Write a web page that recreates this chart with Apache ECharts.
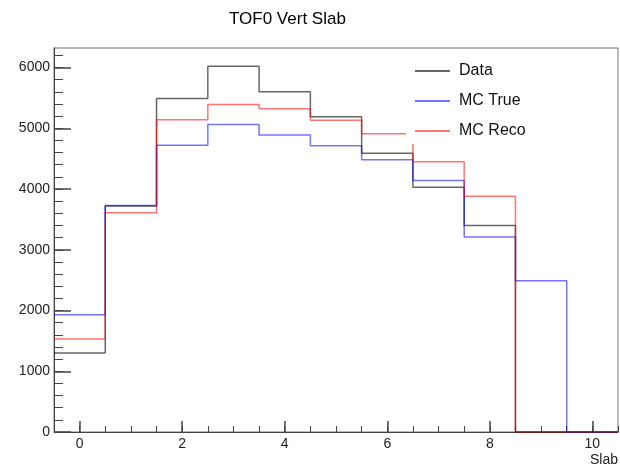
<!DOCTYPE html>
<html>
<head>
<meta charset="utf-8">
<script src="https://cdn.jsdelivr.net/npm/echarts@6/dist/echarts.min.js"></script>
<style>html,body{margin:0;padding:0;background:#fff}#c{width:620px;height:468px}</style>
</head>
<body>
<div id="c"></div>
<script>
var slabs = [0, 1, 2, 3, 4, 5, 6, 7, 8, 9, 10];
var dataVals = [1300, 3720, 5490, 6020, 5600, 5190, 4590, 4030, 3400, 0, 0];
var mcTrueVals = [1930, 3730, 4720, 5060, 4890, 4710, 4480, 4140, 3210, 2490, 0];
var mcRecoVals = [1530, 3610, 5140, 5390, 5320, 5130, 4910, 4450, 3880, 0, 0];
var xTickLabels = [0, 2, 4, 6, 8, 10];
var yTickLabels = [0, 1000, 2000, 3000, 4000, 5000, 6000];
var seriesNames = ['Data', 'MC True', 'MC Reco'];

var FONT = '"Liberation Sans", Arial, Helvetica, sans-serif';
var yMax = 6321;
var xMin = -0.5, xMax = 10.5;

function steps(vals) {
  var pts = [];
  for (var i = 0; i < slabs.length; i++) {
    pts.push([slabs[i] - 0.5, vals[i]]);
    pts.push([slabs[i] + 0.5, vals[i]]);
  }
  return pts;
}
var xMinor = [];
for (var v = xMin; v <= xMax + 1e-9; v += 0.5) xMinor.push(v);
var yMinor = [];
for (var w = 0; w <= 6200; w += 200) yMinor.push(w);
function plain(val) { return String(val); }

var chart = echarts.init(document.getElementById('c'), null, {renderer: 'canvas'});
chart.setOption({
  animation: false,
  backgroundColor: '#fff',
  title: {
    text: 'TOF0 Vert Slab',
    left: 224, top: 6,
    textStyle: {fontFamily: FONT, fontSize: 17, fontWeight: 'normal', color: '#000'}
  },
  grid: {left: 54, right: 2, top: 48, bottom: 36, show: true, borderColor: '#777', borderWidth: 1, backgroundColor: 'transparent'},
  xAxis: [{
    type: 'value', min: xMin, max: xMax,
    axisLine: {show: true, onZero: false, lineStyle: {color: '#444', width: 1}},
    axisTick: {show: true, inside: true, length: 11, customValues: xTickLabels, lineStyle: {color: '#444', width: 1.5}},
    axisLabel: {customValues: xTickLabels, formatter: plain, fontFamily: FONT, fontSize: 14, color: '#222', margin: 5},
    splitLine: {show: false}
  }, {
    type: 'value', min: xMin, max: xMax, position: 'bottom',
    axisLine: {show: false, onZero: false},
    axisTick: {show: true, inside: true, length: 6, customValues: xMinor, lineStyle: {color: '#444', width: 1}},
    axisLabel: {show: false},
    splitLine: {show: false}
  }],
  yAxis: [{
    type: 'value', min: 0, max: yMax,
    axisLine: {show: true, onZero: false, lineStyle: {color: '#444', width: 1}},
    axisTick: {show: true, inside: true, length: 17, customValues: yTickLabels, lineStyle: {color: '#444', width: 1.5}},
    axisLabel: {customValues: yTickLabels, formatter: plain, fontFamily: FONT, fontSize: 14, color: '#222', margin: 4},
    splitLine: {show: false}
  }, {
    type: 'value', min: 0, max: yMax, position: 'left',
    axisLine: {show: false, onZero: false},
    axisTick: {show: true, inside: true, length: 9, customValues: yMinor, lineStyle: {color: '#444', width: 1}},
    axisLabel: {show: false},
    splitLine: {show: false}
  }],
  legend: {
    orient: 'vertical', left: 406, top: 56, z: 20,
    backgroundColor: '#fff',
    padding: [6, 10, 4, 9],
    itemWidth: 35, itemHeight: 2, itemGap: 12,
    icon: 'rect',
    textStyle: {fontFamily: FONT, fontSize: 16, color: '#111', lineHeight: 18, padding: [0, 0, 0, 4]},
    data: seriesNames
  },
  graphic: [{
    type: 'text', right: 2, top: 453,
    style: {text: 'Slab', font: '14px ' + FONT, fill: '#222'}
  }],
  series: [
    {name: seriesNames[0], type: 'line', data: steps(dataVals), showSymbol: false, symbol: 'none',
     lineStyle: {color: 'rgba(0,0,0,0.6)', width: 1.5}, itemStyle: {color: 'rgba(0,0,0,0.6)'}, z: 2},
    {name: seriesNames[1], type: 'line', data: steps(mcTrueVals), showSymbol: false, symbol: 'none',
     lineStyle: {color: 'rgba(0,0,255,0.55)', width: 1.5}, itemStyle: {color: 'rgba(0,0,255,0.55)'}, z: 3},
    {name: seriesNames[2], type: 'line', data: steps(mcRecoVals), showSymbol: false, symbol: 'none',
     lineStyle: {color: 'rgba(255,0,0,0.55)', width: 1.5}, itemStyle: {color: 'rgba(255,0,0,0.55)'}, z: 4}
  ]
});
</script>
</body>
</html>
